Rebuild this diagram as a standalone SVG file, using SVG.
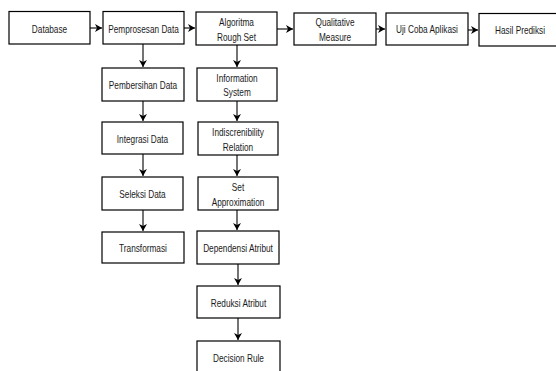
<svg xmlns="http://www.w3.org/2000/svg" width="556" height="371" viewBox="0 0 556 371">
<style>
.b{fill:#fff;stroke:#000;stroke-width:1.2}
.t{font-family:"Liberation Sans",Arial,sans-serif;font-size:11.8px;fill:#1a1a1a;text-anchor:middle}
.c{stroke:#000;stroke-width:1.1;fill:none;marker-end:url(#ah)}
</style>
<defs>
<marker id="ah" markerWidth="8" markerHeight="8" refX="7" refY="4" orient="auto" markerUnits="userSpaceOnUse">
<path d="M0,0 L7,4 L0,8 L2,4 Z" fill="#000"/>
</marker>
</defs>
<rect width="556" height="371" fill="#fff"/>
<g id="connectors">
<path class="c" d="M90,28 L102,28"/>
<path class="c" d="M184,28 L195,28"/>
<path class="c" d="M277,29 L293,29"/>
<path class="c" d="M376,29 L385,29"/>
<path class="c" d="M468,30 L478,30"/>
<path class="c" d="M143,44 L143,67"/>
<path class="c" d="M143,101 L143,121"/>
<path class="c" d="M143,154 L143,176"/>
<path class="c" d="M143,210 L143,231"/>
<path class="c" d="M237,45 L237,67"/>
<path class="c" d="M237,101 L237,121"/>
<path class="c" d="M237,155 L237,176"/>
<path class="c" d="M237,210 L237,230"/>
<path class="c" d="M238,264 L238,285"/>
<path class="c" d="M238,318 L238,340"/>
</g>
<g id="database"><rect class="b" x="9" y="11.5" width="81" height="32.5"/><g transform="translate(49.5,32.5) scale(0.7,1)"><text class="t">Database</text></g></g>
<g id="pemprosesan"><rect class="b" x="103" y="11.5" width="81" height="32.5"/><g transform="translate(143.5,32.5) scale(0.7,1)"><text class="t">Pemprosesan Data</text></g></g>
<g id="algoritma"><rect class="b" x="196" y="12" width="81" height="33"/><g transform="translate(236.5,25.5) scale(0.7,1)"><text class="t">Algoritma</text></g><g transform="translate(236.5,40.5) scale(0.7,1)"><text class="t">Rough Set</text></g></g>
<g id="qualitative"><rect class="b" x="294" y="13" width="82" height="32"/><g transform="translate(335,26) scale(0.7,1)"><text class="t">Qualitative</text></g><g transform="translate(335,41) scale(0.7,1)"><text class="t">Measure</text></g></g>
<g id="ujicoba"><rect class="b" x="386" y="13" width="82" height="32"/><g transform="translate(427,33) scale(0.7,1)"><text class="t">Uji Coba Aplikasi</text></g></g>
<g id="hasil"><rect class="b" x="479" y="13.5" width="90" height="32.5"/><g transform="translate(520,34) scale(0.7,1)"><text class="t">Hasil Prediksi</text></g></g>
<g id="pembersihan"><rect class="b" x="102" y="68" width="82" height="33"/><g transform="translate(143,89) scale(0.7,1)"><text class="t">Pembersihan Data</text></g></g>
<g id="integrasi"><rect class="b" x="102" y="122" width="81" height="32"/><g transform="translate(142.5,142.5) scale(0.7,1)"><text class="t">Integrasi Data</text></g></g>
<g id="seleksi"><rect class="b" x="102" y="177" width="81" height="33"/><g transform="translate(142.5,198) scale(0.7,1)"><text class="t">Seleksi Data</text></g></g>
<g id="transformasi"><rect class="b" x="102" y="232" width="82" height="31"/><g transform="translate(143,252) scale(0.7,1)"><text class="t">Transformasi</text></g></g>
<g id="information"><rect class="b" x="197" y="68" width="80" height="33"/><g transform="translate(237,81.5) scale(0.7,1)"><text class="t">Information</text></g><g transform="translate(237,96) scale(0.7,1)"><text class="t">System</text></g></g>
<g id="indiscrenibility"><rect class="b" x="198" y="122" width="80" height="33"/><g transform="translate(238,136) scale(0.7,1)"><text class="t">Indiscrenibility</text></g><g transform="translate(238,151) scale(0.7,1)"><text class="t">Relation</text></g></g>
<g id="setapprox"><rect class="b" x="198" y="177" width="80" height="33"/><g transform="translate(238,191) scale(0.7,1)"><text class="t">Set</text></g><g transform="translate(238,206) scale(0.7,1)"><text class="t">Approximation</text></g></g>
<g id="dependensi"><rect class="b" x="197" y="231" width="82" height="33"/><g transform="translate(238,252) scale(0.7,1)"><text class="t">Dependensi Atribut</text></g></g>
<g id="reduksi"><rect class="b" x="197" y="286" width="83" height="32"/><g transform="translate(238.5,306.5) scale(0.7,1)"><text class="t">Reduksi Atribut</text></g></g>
<g id="decision"><rect class="b" x="197" y="341" width="83" height="36"/><g transform="translate(238.5,362) scale(0.7,1)"><text class="t">Decision Rule</text></g></g>
</svg>
